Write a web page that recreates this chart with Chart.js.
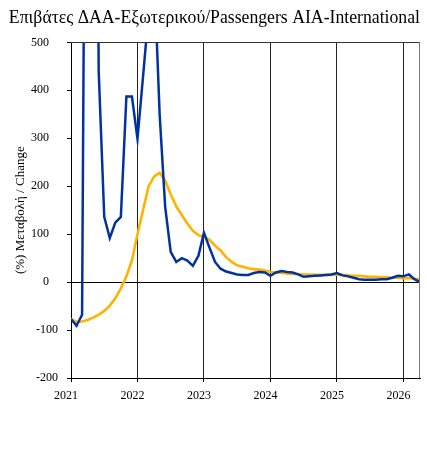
<!DOCTYPE html>
<html>
<head>
<meta charset="utf-8">
<script src="https://cdn.jsdelivr.net/npm/chart.js@4"></script>
<style>
	html, body { margin: 0; padding: 0; background: #fff; }
	#wrap { width: 427px; height: 456px; }
</style>
</head>
<body>
<div id="wrap"><canvas id="chart"></canvas></div>
<script>
"use strict";

// monthly, starting Jan 2021
var startYear = 2021;
var yoyChange = [-77, -91, -68, 1900, 2200, 440, 136, 92, 124, 136, 387, 387,
	299, 428, 560, 650, 350, 157, 63, 42, 50, 45, 34, 55,
	103, 72, 42, 28, 22, 19, 16, 15, 15, 19, 21, 20,
	13, 20, 23, 21, 20, 16, 11, 12, 13, 14, 15, 16,
	19, 14, 12, 9, 6, 5, 5, 5, 6, 6, 9, 13,
	12, 16, 6, 0];
var movingAvg = [-77, -83, -82, -79, -74, -68, -60, -49, -34, -13, 12, 45,
	100, 150, 200, 220, 228, 212, 183, 158, 140, 122, 107, 98,
	94, 88, 76, 66, 52, 42, 35, 32, 29, 27, 26, 24,
	21, 20, 19, 18, 17, 17, 16, 16, 15, 15, 15, 15,
	16, 15, 14, 13, 13, 12, 11, 11, 10, 10, 9, 9,
	8, 8, 7, 6];
var yearTicks = [2021, 2022, 2023, 2024, 2025, 2026];
var yTicks = [-200, -100, 0, 100, 200, 300, 400, 500];

function toPoints(values) {
	return values.map(function(v, i) {
		return {x: startYear + i / 12, y: v};
	});
}

var serif = '"Liberation Serif", "DejaVu Serif", serif';

var frame = {
	id: 'frame',
	afterDatasetsDraw: function(chart) {
		var a = chart.chartArea, ctx = chart.ctx;
		ctx.save();
		ctx.lineWidth = 1;
		ctx.strokeStyle = '#333';
		ctx.beginPath();
		ctx.moveTo(a.left, Math.round(a.top) + 0.5);
		ctx.lineTo(a.right, Math.round(a.top) + 0.5);
		ctx.stroke();
		ctx.strokeStyle = '#777';
		ctx.beginPath();
		ctx.moveTo(Math.round(a.right) - 0.5, a.top);
		ctx.lineTo(Math.round(a.right) - 0.5, a.bottom);
		ctx.stroke();
		ctx.restore();
	}
};

new Chart(document.getElementById('chart'), {
	type: 'line',
	data: {
		datasets: [{
			data: toPoints(yoyChange),
			borderColor: '#0033a0',
			borderWidth: 2.5,
			pointRadius: 0,
			tension: 0,
			clip: 0
		}, {
			data: toPoints(movingAvg),
			borderColor: '#ffb300',
			borderWidth: 2.6,
			pointRadius: 0,
			tension: 0,
			clip: 0
		}]
	},
	options: {
		responsive: true,
		maintainAspectRatio: false,
		animation: false,
		layout: {padding: {left: 0, right: 7, top: 0, bottom: 48}},
		plugins: {
			legend: {display: false},
			tooltip: {enabled: false},
			title: {
				display: true,
				// leading en space nudges the centred title a little to the right
				text: '\u2002Επιβάτες ΔΑΑ-Εξωτερικού/Passengers AIA-International',
				color: '#000',
				font: {family: serif, size: 17.8, weight: 'normal'},
				padding: {top: 8, bottom: 13}
			}
		},
		scales: {
			x: {
				type: 'linear',
				min: 2021,
				max: 2026.25,
				afterBuildTicks: function(scale) {
					scale.ticks = yearTicks.map(function(v) { return {value: v}; });
				},
				afterFit: function(scale) { scale.height = 30; },
				grid: {color: '#222', tickColor: '#000', tickLength: 4},
				border: {color: '#000', width: 1},
				ticks: {
					color: '#000',
					font: {family: serif, size: 12},
					padding: 7,
					labelOffset: -5,
					maxRotation: 0,
					callback: function(v) { return String(v); }
				}
			},
			y: {
				min: -200,
				max: 500,
				afterBuildTicks: function(scale) {
					scale.ticks = yTicks.map(function(v) { return {value: v}; });
				},
				afterFit: function(scale) { scale.width = 71; },
				grid: {
					color: function(c) { return c.tick && c.tick.value === 0 ? '#000' : 'rgba(0,0,0,0)'; },
					tickColor: '#000',
					tickLength: 4
				},
				border: {color: '#000', width: 1},
				title: {
					display: true,
					text: '(%) Μεταβολή / Change',
					color: '#000',
					font: {family: serif, size: 13},
					padding: {top: 13, bottom: 0}
				},
				ticks: {
					color: '#000',
					font: {family: serif, size: 12},
					padding: 9,
					callback: function(v) { return v < 0 ? String(v) : v + '\u2007\u2008'; }
				}
			}
		}
	},
	plugins: [frame]
});
</script>
</body>
</html>
